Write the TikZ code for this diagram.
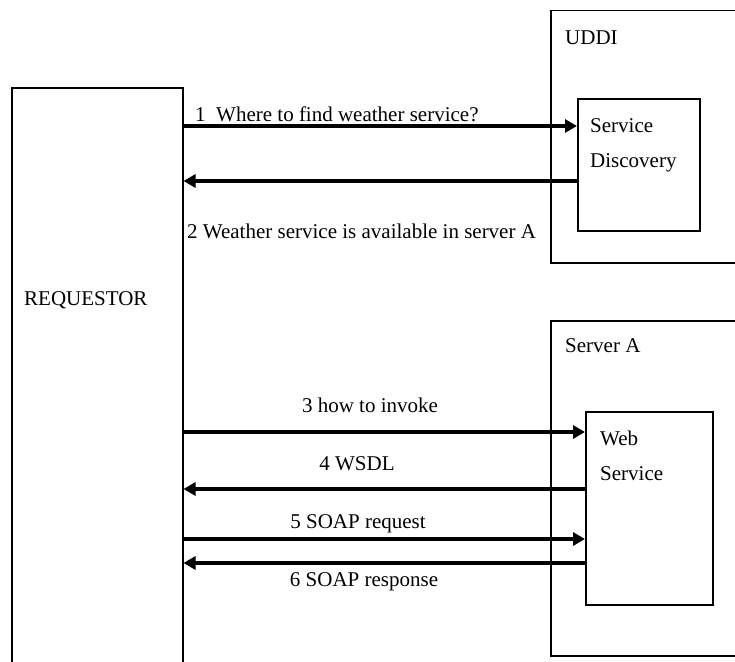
\documentclass[tikz,border=0pt]{standalone}
\usepackage{fontspec}
\setmainfont{Liberation Serif}
\usetikzlibrary{arrows.meta}

\begin{document}
\begin{tikzpicture}[x=1pt, y=-1pt,
    box/.style={draw, line width=1.5pt, rectangle, inner sep=0pt, anchor=north west},
    msg/.style={-{Triangle[length=12pt, width=13pt]}, line width=3.4pt},
    lbl/.style={font=\fontsize{21}{35}\selectfont, inner sep=0pt}]
        % Bildrand
        \useasboundingbox (0,0) rectangle (735,661);
        \clip (0,0) rectangle (735,661);

        % Requestor
        \node[box, minimum width=171pt, minimum height=600pt] (req) at (11,87) {};
        \node[lbl, anchor=base west] (reqtxt) at (24,305) {REQUESTOR};

        % UDDI mit Service Discovery
        \node[box, minimum width=200pt, minimum height=252pt] (uddi) at (550,10) {};
        \node[lbl, anchor=base west] (uddtxt) at (565,45) {UDDI};
        \node[box, minimum width=122pt, minimum height=132pt] (sd) at (577,98) {};
        \node[lbl, anchor=base west, align=left] (sdtxt) at (590,167) {Service\\Discovery};

        % Server A mit Web Service
        \node[box, minimum width=200pt, minimum height=335pt] (srva) at (550,320) {};
        \node[lbl, anchor=base west] (srvtxt) at (565,352) {Server A};
        \node[box, minimum width=127pt, minimum height=193pt] (ws) at (585,411) {};
        \node[lbl, anchor=base west, align=left] (wstxt) at (600,480) {Web\\Service};

        % Nachrichten zur UDDI
        \draw[msg] (req.east |- 0,126) -- (sd.west |- 0,126);
        \draw[msg] (sd.west |- 0,181) -- (req.east |- 0,181);
        \node[lbl, anchor=base west] (m1) at (195,121) {1\ \ Where to find weather service?};
        \node[lbl, anchor=base west] (m2) at (187,238) {2 Weather service is available in server A};

        % Nachrichten zum Server A
        \draw[msg] (req.east |- 0,432) -- (ws.west |- 0,432);
        \draw[msg] (ws.west |- 0,489) -- (req.east |- 0,489);
        \draw[msg] (req.east |- 0,539) -- (ws.west |- 0,539);
        \draw[msg] (ws.west |- 0,563) -- (req.east |- 0,563);
        \node[lbl, anchor=base] (m3) at (370,412) {3 how to invoke};
        \node[lbl, anchor=base] (m4) at (357,470) {4 WSDL};
        \node[lbl, anchor=base] (m5) at (358,528) {5 SOAP request};
        \node[lbl, anchor=base] (m6) at (364,586) {6 SOAP response};

    \end{tikzpicture}
\end{document}
